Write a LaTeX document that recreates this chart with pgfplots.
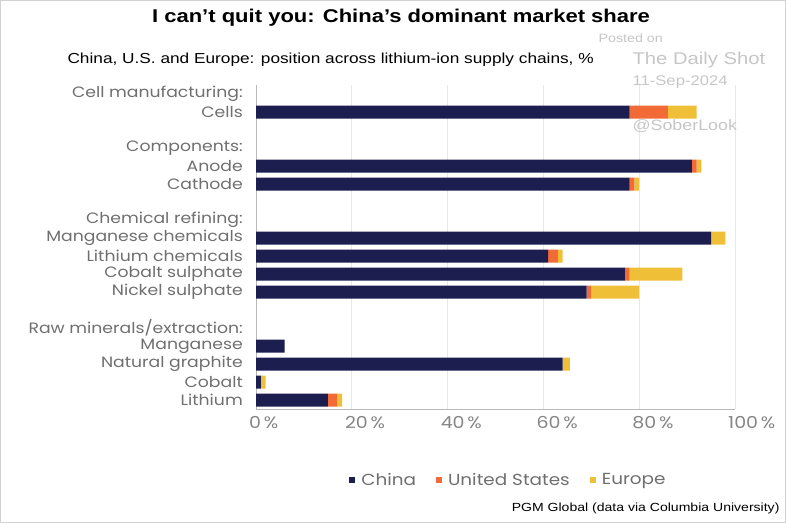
\documentclass[border=0pt]{standalone}
\usepackage{pgfplots}
\pgfplotsset{compat=1.18}
\usepackage{fontspec}
\setmainfont[FakeStretch=1.19]{Liberation Sans}
\newfontfamily\geo[FakeStretch=1.15]{Poppins}
\definecolor{cnavy}{HTML}{1B1E4F}
\definecolor{corange}{HTML}{F26A36}
\definecolor{cyellow}{HTML}{EFBF38}
\definecolor{lblgray}{HTML}{6F6F6F}
\definecolor{wm}{HTML}{C6C6C6}

\begin{document}
\begin{tikzpicture}[x=1pt,y=-1pt]
\draw[gray!35, line width=1pt] (0.5,0.5) rectangle (785.5,522.5);
\node[font=\bfseries\fontsize{18.5}{20}\selectfont] at (401,18) {I can’t quit you: China’s dominant market share};
\node[font=\fontsize{14.5}{16}\selectfont, anchor=west] at (64,60) {China, U.S. and Europe: position across lithium-ion supply chains, \%};

\begin{axis}[
  scale only axis, width=479pt, height=324pt,
  at={(256pt,-409pt)}, anchor=south west,
  xbar stacked, bar width=13pt,
  xmin=0, xmax=100, ymin=-0.5, ymax=17.5, y dir=reverse,
  axis line style={draw=none},
  tick style={draw=none},
  xmajorgrids, grid style={gray!18, line width=0.8pt},
  xtick={0,20,...,100},
  xticklabels={0\,\%,20\,\%,40\,\%,60\,\%,80\,\%,100\,\%},
  xticklabel style={font=\geo\fontsize{16.5}{16.5}\selectfont, text=lblgray!85, anchor=north west, inner sep=0pt, xshift=-7pt, yshift=-7pt},
  ytick={0,1,3,4,5,7,8,9,10,11,13,14,15,16,17},
  yticklabels={Cell manufacturing:,Cells,Components:,Anode,Cathode,Chemical refining:,Manganese chemicals,Lithium chemicals,Cobalt sulphate,Nickel sulphate,Raw minerals/extraction:,Manganese,Natural graphite,Cobalt,Lithium},
  yticklabel style={font=\geo\fontsize{15}{15}\selectfont, text=lblgray, inner sep=0pt, xshift=-13pt},
  legend style={at={(0.527,-0.219)}, anchor=center, draw=none, fill=none, legend columns=3,
    font=\geo\fontsize{16}{16}\selectfont, text=lblgray,
    /tikz/every odd column/.append style={column sep=4pt},
    /tikz/every even column/.append style={column sep=18pt}},
  legend image code/.code={\fill[#1] (0pt,-3pt) rectangle (6pt,3pt);},
]
\addplot[fill=cnavy, draw=none] coordinates {
  (78,1) (91,4) (78,5) (95,8) (61,9) (77,10) (69,11) (6,14) (64,15) (1,16) (15,17)};
\addlegendentry{China}
\addplot[fill=corange, draw=none] coordinates {
  (8,1) (1,4) (1,5) (0,8) (2,9) (1,10) (1,11) (0,14) (0,15) (0,16) (2,17)};
\addlegendentry{United States}
\addplot[fill=cyellow, draw=none] coordinates {
  (6,1) (1,4) (1,5) (3,8) (1,9) (11,10) (10,11) (0,14) (1.5,15) (1,16) (1,17)};
\addlegendentry{Europe}
\draw[gray!55, line width=0.8pt] (axis cs:0,-0.5) -- (axis cs:0,17.5) -- (axis cs:100,17.5);
\end{axis}

\node[font=\fontsize{11.8}{14}\selectfont, anchor=east] at (783,508) {PGM Global (data via Columbia University)};
\node[font=\fontsize{12}{14}\selectfont, text=wm, anchor=west] at (595,38) {Posted on};
\node[font=\fontsize{17}{18}\selectfont, text=wm, anchor=west] at (629,60) {The Daily Shot};
\node[font=\fontsize{14}{16}\selectfont, text=wm, anchor=west] at (629,82) {11-Sep-2024};
\node[font=\fontsize{15}{18}\selectfont, text=wm, anchor=west] at (629,126) {@SoberLook};
\end{tikzpicture}
\end{document}
